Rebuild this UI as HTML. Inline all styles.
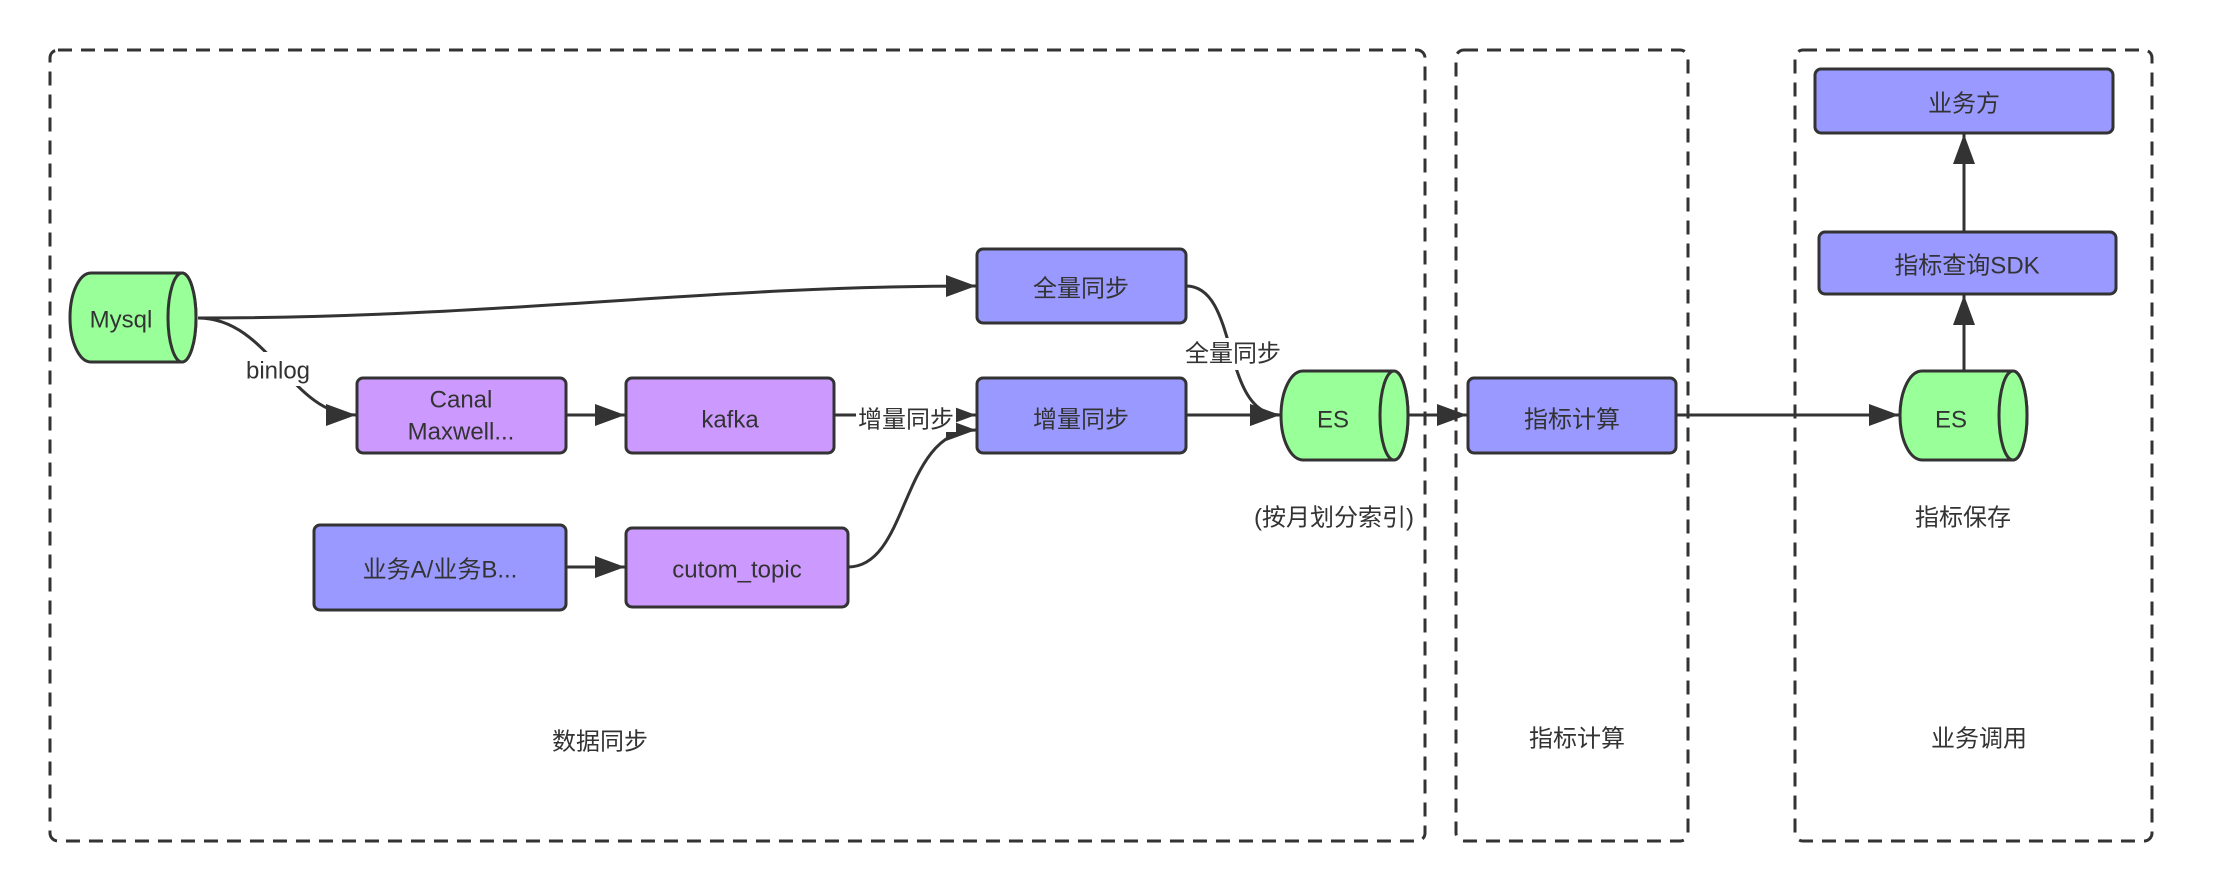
<!DOCTYPE html>
<html><head><meta charset="utf-8"><style>
html,body{margin:0;padding:0;background:#fff;}
svg{display:block;}
text{font-family:"Liberation Sans","Noto Sans CJK SC",sans-serif;font-size:24px;fill:#333;}
</style></head><body>
<svg width="2235" height="892" viewBox="0 0 2235 892" xmlns="http://www.w3.org/2000/svg">
<defs>
<marker id="a" markerUnits="userSpaceOnUse" markerWidth="32" markerHeight="24" refX="30" refY="11" orient="auto">
<path d="M0,0 L30,11 L0,22 Z" fill="#333"/>
</marker>
</defs>
<g fill="none" stroke="#333" stroke-width="3" stroke-dasharray="14 9">
<rect x="50" y="50" width="1375" height="791" rx="8"/>
<rect x="1456" y="50" width="232" height="791" rx="8"/>
<rect x="1795" y="50" width="357" height="791" rx="8"/>
</g>
<g stroke="#333" stroke-width="3">
<rect x="977" y="249" width="209" height="74" rx="6" fill="#9999ff"/>
<rect x="977" y="378" width="209" height="75" rx="6" fill="#9999ff"/>
<rect x="357" y="378" width="209" height="75" rx="6" fill="#cc99ff"/>
<rect x="626" y="378" width="208" height="75" rx="6" fill="#cc99ff"/>
<rect x="314" y="525" width="252" height="85" rx="6" fill="#9999ff"/>
<rect x="626" y="528" width="222" height="79" rx="6" fill="#cc99ff"/>
<rect x="1468" y="378" width="208" height="75" rx="6" fill="#9999ff"/>
<rect x="1815" y="69" width="298" height="64" rx="6" fill="#9999ff"/>
<rect x="1819" y="232" width="297" height="62" rx="6" fill="#9999ff"/>
<!-- cylinders -->
<path d="M91,273 L182,273 A14,44.5 0 0 1 182,362 L91,362 A21,44.5 0 0 1 91,273 Z" fill="#99ff99"/>
<ellipse cx="182" cy="317.5" rx="14" ry="44.5" fill="#99ff99"/>
<path d="M1303,371 L1394,371 A14,44.5 0 0 1 1394,460 L1303,460 A22,44.5 0 0 1 1303,371 Z" fill="#99ff99"/>
<ellipse cx="1394" cy="415.5" rx="14" ry="44.5" fill="#99ff99"/>
<path d="M1922,371 L2013,371 A14,44.5 0 0 1 2013,460 L1922,460 A22,44.5 0 0 1 1922,371 Z" fill="#99ff99"/>
<ellipse cx="2013" cy="415.5" rx="14" ry="44.5" fill="#99ff99"/>
</g>
<g fill="none" stroke="#333" stroke-width="3">
<path d="M198,318 C500,318 700,286 976,286" marker-end="url(#a)"/>
<path d="M198,318 C270,318 290,415 356,415" marker-end="url(#a)"/>
<path d="M566,415 L625,415" marker-end="url(#a)"/>
<path d="M834,415 L976,415" marker-end="url(#a)"/>
<path d="M566,567 L625,567" marker-end="url(#a)"/>
<path d="M848,567 C910,567 900,430 976,430" marker-end="url(#a)"/>
<path d="M1186,286 C1240,286 1220,415 1280,415" marker-end="url(#a)"/>
<path d="M1186,415 L1280,415" marker-end="url(#a)"/>
<path d="M1408,415 L1467,415" marker-end="url(#a)"/>
<path d="M1676,415 L1899,415" marker-end="url(#a)"/>
<path d="M1964,371 L1964,295" marker-end="url(#a)"/>
<path d="M1964,232 L1964,134" marker-end="url(#a)"/>
</g>
<g fill="#fff">
<rect x="240" y="352" width="76" height="34"/>
<rect x="856" y="402" width="100" height="30"/>
<rect x="1183" y="338" width="100" height="32"/>
</g>
<g text-anchor="middle" dominant-baseline="central">
<text x="121" y="320">Mysql</text>
<text x="278" y="371">binlog</text>
<text x="461" y="400">Canal</text>
<text x="461" y="432">Maxwell...</text>
<text x="730" y="420">kafka</text>
<text x="906" y="420">增量同步</text>
<text x="1081" y="289">全量同步</text>
<text x="1081" y="420">增量同步</text>
<text x="440" y="570">业务A/业务B...</text>
<text x="737" y="570">cutom_topic</text>
<text x="1233" y="354">全量同步</text>
<text x="1333" y="420">ES</text>
<text x="1334" y="518">(按月划分索引)</text>
<text x="1572" y="420">指标计算</text>
<text x="1951" y="420">ES</text>
<text x="1963" y="518">指标保存</text>
<text x="1964" y="104">业务方</text>
<text x="1967" y="266">指标查询SDK</text>
<text x="600" y="742">数据同步</text>
<text x="1577" y="739">指标计算</text>
<text x="1979" y="739">业务调用</text>
</g>
</svg>
</body></html>
